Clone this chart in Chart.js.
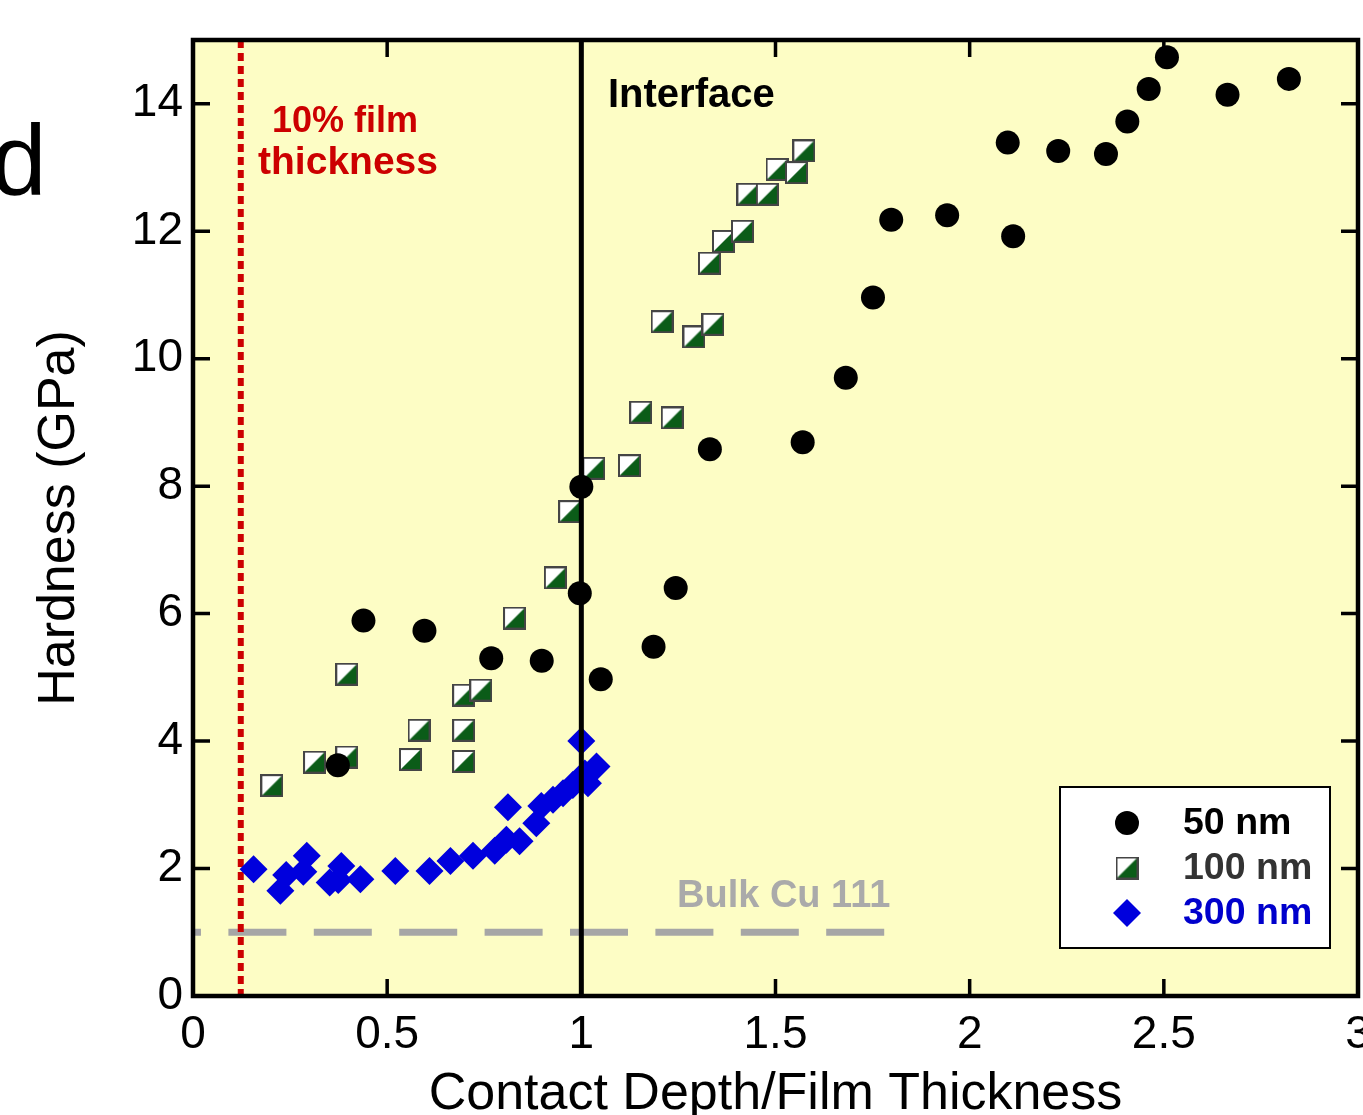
<!DOCTYPE html>
<html>
<head>
<meta charset="utf-8">
<script src="https://cdn.jsdelivr.net/npm/chart.js@4.4.1/dist/chart.umd.min.js"></script>
<style>
  html, body { margin: 0; padding: 0; background: #fff; }
  #wrap { width: 1363px; height: 1115px; }
</style>
</head>
<body>
<div id="wrap"><canvas id="chart" width="1363" height="1115"></canvas></div>
<script>
// 50 nm film
const x50 = [0.373, 0.439, 0.596, 0.768, 0.898, 0.996, 1.000, 1.050, 1.186, 1.243, 1.331, 1.570, 1.681, 1.751, 1.798, 1.942, 2.098, 2.112, 2.228, 2.351, 2.406, 2.461, 2.508, 2.664, 2.822];
const y50 = [3.62, 5.89, 5.73, 5.30, 5.26, 6.32, 7.99, 4.97, 5.48, 6.40, 8.58, 8.69, 9.70, 10.96, 12.18, 12.25, 13.39, 11.92, 13.26, 13.21, 13.72, 14.23, 14.73, 14.14, 14.39];

// 100 nm film
const x100 = [0.203, 0.313, 0.396, 0.396, 0.560, 0.582, 0.697, 0.697, 0.697, 0.741, 0.828, 0.933, 0.970, 1.032, 1.124, 1.153, 1.234, 1.208, 1.290, 1.339, 1.330, 1.366, 1.415, 1.429, 1.479, 1.504, 1.554, 1.573];
const y100 = [3.30, 3.67, 3.75, 5.05, 3.71, 4.17, 3.68, 4.17, 4.72, 4.80, 5.93, 6.56, 7.60, 8.28, 8.32, 9.16, 9.07, 10.58, 10.34, 10.54, 11.50, 11.84, 12.00, 12.58, 12.58, 12.97, 12.92, 13.26];

// 300 nm film
const x300 = [0.156, 0.225, 0.240, 0.284, 0.293, 0.352, 0.374, 0.382, 0.431, 0.521, 0.609, 0.663, 0.721, 0.777, 0.807, 0.841, 0.811, 0.884, 0.897, 0.927, 0.953, 0.978, 1.000, 1.009, 1.017, 1.039];
const y300 = [1.99, 1.65, 1.90, 1.95, 2.20, 1.78, 1.82, 2.04, 1.83, 1.96, 1.96, 2.12, 2.20, 2.28, 2.45, 2.43, 2.96, 2.71, 2.98, 3.08, 3.18, 3.31, 4.00, 3.49, 3.34, 3.60];

const seriesLabels = ['50 nm', '100 nm', '300 nm'];
const legendTextColors = ['#000000', '#333333', '#0000cc'];

const xTicks = [0, 0.5, 1, 1.5, 2, 2.5, 3];
const yTicks = [0, 2, 4, 6, 8, 10, 12, 14];

// reference lines
const filmTenPct = 0.123;
const interfaceX = 1;
const bulkLevel = 1;
const bulkEnd = 1.782;

const FONT = "'Liberation Sans', Arial, sans-serif";

function pts(xs, ys) {
  return xs.map((v, i) => ({ x: v, y: ys[i] }));
}

// half white / half green square marker
function halfSquare() {
  const c = document.createElement('canvas');
  c.width = 23; c.height = 23;
  const g = c.getContext('2d');
  g.fillStyle = '#0b5c18';
  g.fillRect(0, 0, 23, 23);
  g.fillStyle = '#ffffff';
  g.beginPath();
  g.moveTo(2, 2); g.lineTo(21, 2); g.lineTo(2, 21);
  g.closePath(); g.fill();
  g.strokeStyle = '#454545';
  g.lineWidth = 2;
  g.strokeRect(1, 1, 21, 21);
  return c;
}
const squareImg = halfSquare();

const extras = {
  id: 'extras',
  beforeDraw(chart) {
    const { ctx, chartArea: a } = chart;
    ctx.save();
    ctx.fillStyle = '#ffffff';
    ctx.fillRect(0, 0, chart.width, chart.height);
    ctx.fillStyle = '#fdfdc5';
    ctx.fillRect(a.left, a.top, a.right - a.left, a.bottom - a.top);
    ctx.restore();
  },
  beforeDatasetsDraw(chart) {
    const { ctx, chartArea: a, scales: { x, y } } = chart;
    ctx.save();
    ctx.beginPath();
    ctx.rect(a.left, a.top, a.right - a.left, a.bottom - a.top);
    ctx.clip();

    // bulk Cu dashed line
    ctx.strokeStyle = '#a6a6a6';
    ctx.lineWidth = 7;
    ctx.setLineDash([58, 27.4]);
    ctx.lineDashOffset = 50;
    ctx.beginPath();
    ctx.moveTo(x.getPixelForValue(0), y.getPixelForValue(bulkLevel));
    ctx.lineTo(x.getPixelForValue(bulkEnd), y.getPixelForValue(bulkLevel));
    ctx.stroke();

    // 10% film thickness dotted line
    ctx.strokeStyle = '#cc0000';
    ctx.lineWidth = 6;
    ctx.setLineDash([8, 5]);
    ctx.lineDashOffset = 0;
    const rx = x.getPixelForValue(filmTenPct);
    ctx.beginPath();
    ctx.moveTo(rx, a.top);
    ctx.lineTo(rx, a.bottom);
    ctx.stroke();
    ctx.restore();
  },
  afterDatasetsDraw(chart) {
    const { ctx, chartArea: a, scales: { x, y } } = chart;
    ctx.save();
    // interface line
    const ix = x.getPixelForValue(interfaceX);
    ctx.strokeStyle = '#000';
    ctx.lineWidth = 5;
    ctx.beginPath();
    ctx.moveTo(ix, a.top);
    ctx.lineTo(ix, a.bottom);
    ctx.stroke();

    ctx.textBaseline = 'alphabetic';
    ctx.fillStyle = '#cc0000';
    ctx.textAlign = 'center';
    ctx.font = 'bold 36px ' + FONT;
    ctx.fillText('10% film', 345, 132);
    ctx.font = 'bold 39px ' + FONT;
    ctx.fillText('thickness', 348, 174);

    ctx.fillStyle = '#000';
    ctx.textAlign = 'left';
    ctx.font = 'bold 40px ' + FONT;
    ctx.fillText('Interface', 608, 107);

    ctx.fillStyle = '#aaaaaa';
    ctx.font = 'bold 38px ' + FONT;
    ctx.fillText('Bulk Cu 111', 677, 907);
    ctx.restore();
  },
  afterDraw(chart) {
    const { ctx, chartArea: a, scales: { x, y } } = chart;
    ctx.save();
    // frame
    ctx.strokeStyle = '#000';
    ctx.lineWidth = 4.5;
    ctx.strokeRect(a.left, a.top, a.right - a.left, a.bottom - a.top);

    // inward ticks on all four sides
    const tl = 17;
    ctx.lineWidth = 3.5;
    ctx.beginPath();
    x.ticks.forEach(t => {
      if (t.value <= x.min || t.value >= x.max) return;
      const px = x.getPixelForValue(t.value);
      ctx.moveTo(px, a.bottom); ctx.lineTo(px, a.bottom - tl);
      ctx.moveTo(px, a.top); ctx.lineTo(px, a.top + tl);
    });
    y.ticks.forEach(t => {
      if (t.value <= y.min || t.value >= y.max) return;
      const py = y.getPixelForValue(t.value);
      ctx.moveTo(a.left, py); ctx.lineTo(a.left + tl, py);
      ctx.moveTo(a.right, py); ctx.lineTo(a.right - tl, py);
    });
    ctx.stroke();

    // legend box
    const lx = 1060, ly = 787, lw = 270, lh = 161;
    ctx.fillStyle = '#fff';
    ctx.fillRect(lx, ly, lw, lh);
    ctx.lineWidth = 2;
    ctx.strokeStyle = '#000';
    ctx.strokeRect(lx, ly, lw, lh);
    ctx.font = 'bold 37.5px ' + FONT;
    ctx.textAlign = 'left';
    ctx.textBaseline = 'middle';
    chart.data.datasets.forEach((ds, i) => {
      const cy = 823 + 45 * i;
      ctx.fillStyle = ds.backgroundColor;
      ctx.strokeStyle = ds.backgroundColor;
      Chart.helpers.drawPoint(ctx, {
        pointStyle: ds.pointStyle, radius: ds.pointRadius, rotation: 0, borderWidth: 0
      }, 1127, cy);
      ctx.fillStyle = legendTextColors[i];
      ctx.fillText(ds.label, 1183, cy + 1);
    });

    // panel letter
    ctx.fillStyle = '#000';
    ctx.font = '100px ' + FONT;
    ctx.textBaseline = 'alphabetic';
    ctx.fillText('d', -9, 195);
    ctx.restore();
  }
};

new Chart(document.getElementById('chart'), {
  type: 'scatter',
  data: {
    datasets: [
      {
        label: seriesLabels[0],
        data: pts(x50, y50),
        pointStyle: 'circle',
        pointRadius: 12,
        backgroundColor: '#000000',
        borderWidth: 0
      },
      {
        label: seriesLabels[1],
        data: pts(x100, y100),
        pointStyle: squareImg,
        pointRadius: 11,
        backgroundColor: '#0b5c18',
        borderWidth: 0
      },
      {
        label: seriesLabels[2],
        data: pts(x300, y300),
        pointStyle: 'rectRot',
        pointRadius: 14,
        backgroundColor: '#0000dd',
        borderWidth: 0
      }
    ]
  },
  options: {
    responsive: false,
    animation: false,
    devicePixelRatio: 1,
    layout: { autoPadding: false, padding: { top: 40, right: 5, left: 0, bottom: 0 } },
    plugins: { legend: { display: false }, tooltip: { enabled: false } },
    scales: {
      x: {
        type: 'linear',
        min: 0,
        max: 3,
        border: { display: false },
        grid: { display: false, drawTicks: false },
        afterBuildTicks: s => { s.ticks = xTicks.map(v => ({ value: v })); },
        ticks: {
          padding: 12,
          color: '#000',
          maxRotation: 0,
          autoSkip: false,
          font: { family: FONT, size: 46 },
          callback: v => String(v)
        },
        title: {
          display: true,
          text: 'Contact Depth/Film Thickness',
          color: '#000',
          font: { family: FONT, size: 52, lineHeight: 0.8 },
          padding: { top: 0, bottom: 0 }
        },
        afterFit: s => { s.height = 119; s.paddingLeft = 0; s.paddingRight = 0; }
      },
      y: {
        type: 'linear',
        min: 0,
        max: 15,
        border: { display: false },
        grid: { display: false, drawTicks: false },
        afterBuildTicks: s => { s.ticks = yTicks.map(v => ({ value: v })); },
        ticks: {
          padding: 10,
          color: '#000',
          autoSkip: false,
          font: { family: FONT, size: 46 },
          callback: v => String(v)
        },
        title: {
          display: true,
          text: 'Hardness (GPa)',
          color: '#000',
          font: { family: FONT, size: 52, lineHeight: 1 },
          padding: { top: 34, bottom: 0 }
        },
        afterFit: s => { s.width = 193; s.paddingTop = 0; s.paddingBottom = 0; }
      }
    }
  },
  plugins: [extras]
});
</script>
</body>
</html>
